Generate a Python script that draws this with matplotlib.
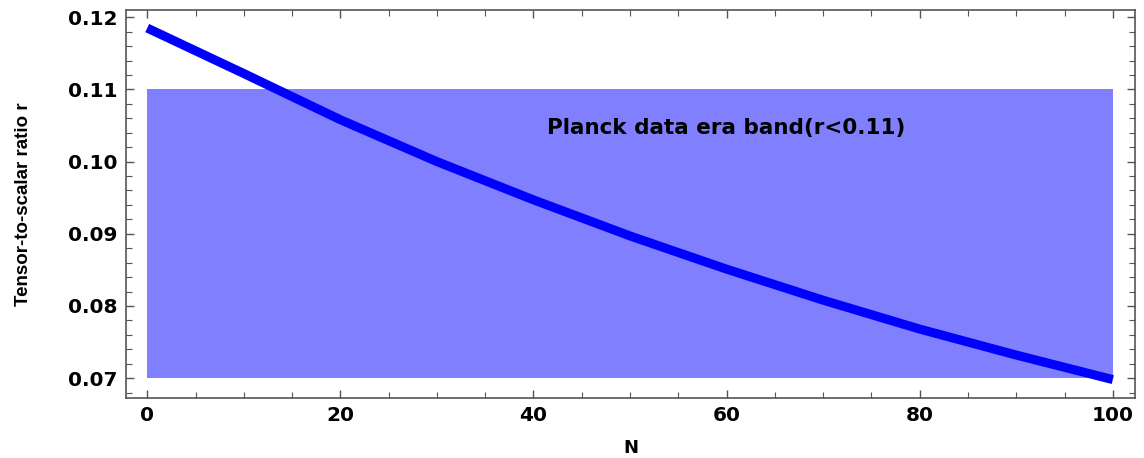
import matplotlib
matplotlib.use("Agg")
from matplotlib import pyplot as plt
from matplotlib.ticker import MultipleLocator

# data
N = [0, 10, 20, 30, 40, 50, 60, 70, 80, 90, 100]
r = [0.1185, 0.1122, 0.1058, 0.1000, 0.0947, 0.0897, 0.0851, 0.0808, 0.0768, 0.0732, 0.0698]
band_x = [0, 100]
band_lo = 0.07
band_hi = 0.11
band_text = "Planck data era band(r<0.11)"

fig = plt.figure(figsize=(11.44, 4.58), dpi=100)
ax = fig.add_axes([126/1144, 60/458, (1135-126)/1144, (398-10)/458])

ax.fill_between(band_x, band_lo, band_hi, color="#8080ff", lw=0, zorder=1)
ax.plot(N, r, color="#0000ff", lw=6.5, solid_capstyle="butt", zorder=2)
ax.text(60, 0.1046, band_text, ha="center", va="center",
        fontsize=15.5, fontweight="bold", family="DejaVu Sans", zorder=3)

ax.set_xlim(-2.2, 102.3)
ax.set_ylim(0.06725, 0.121)
ax.xaxis.set_major_locator(MultipleLocator(20))
ax.xaxis.set_minor_locator(MultipleLocator(5))
ax.yaxis.set_major_locator(MultipleLocator(0.01))
ax.yaxis.set_minor_locator(MultipleLocator(0.002))
ax.yaxis.set_major_formatter(lambda v, p: f"{v:.2f}")

for s in ax.spines.values():
    s.set_color("#555555")
    s.set_linewidth(1.2)
ax.tick_params(which="both", direction="in", top=True, right=True, color="#555555")
ax.tick_params(which="major", length=6, width=1)
ax.tick_params(which="minor", length=4, width=0.8)
ax.tick_params(which="major", labelsize=14.5, pad=6)
for lab in ax.get_xticklabels() + ax.get_yticklabels():
    lab.set_fontweight("bold")
ax.tick_params(axis="x", which="both", labeltop=False)
ax.tick_params(axis="y", which="both", labelright=False)

ax.set_xlabel("N", fontsize=13, fontweight="bold", labelpad=10)
ax.set_ylabel("Tensor-to-scalar ratio r", fontsize=13.5, fontweight="bold",
              family=["Liberation Sans", "DejaVu Sans"], labelpad=26)

fig.savefig("out.png", dpi=100)
